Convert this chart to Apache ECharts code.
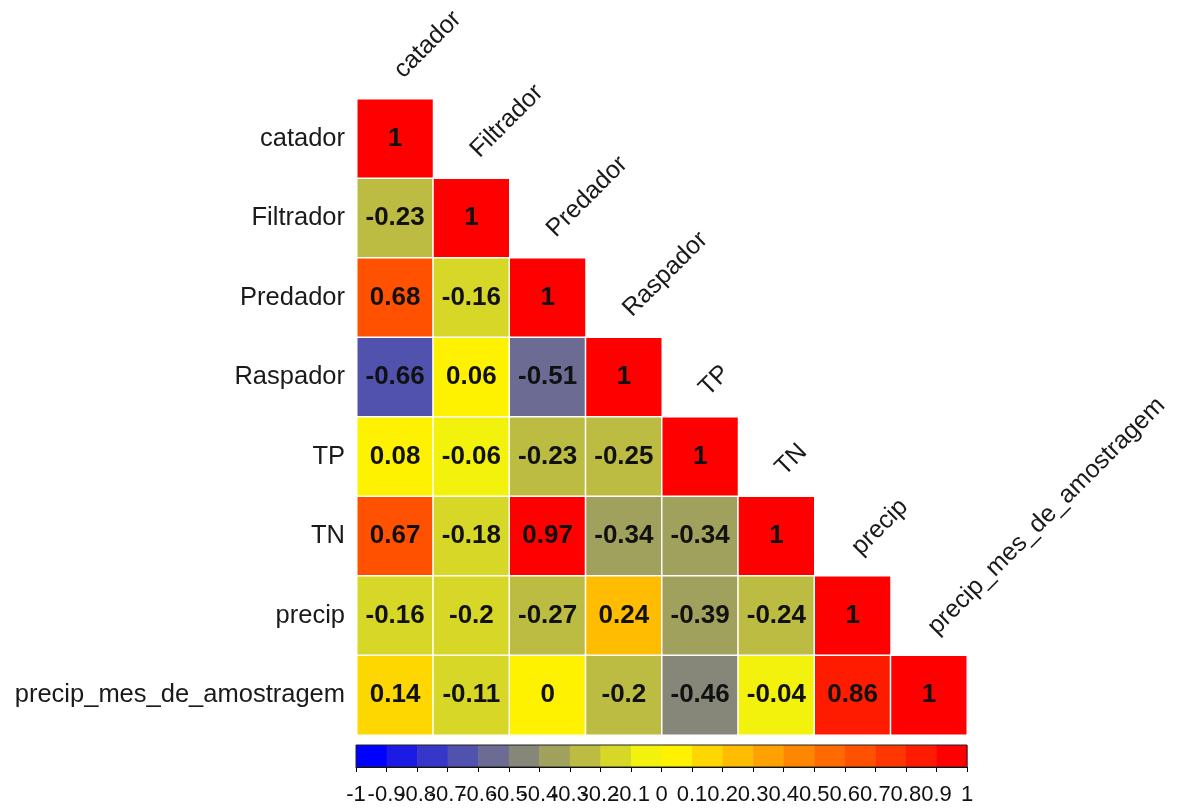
<!DOCTYPE html>
<html>
<head>
<meta charset="utf-8">
<script src="https://cdn.jsdelivr.net/npm/echarts@6/dist/echarts.min.js"></script>
<style>html,body{margin:0;padding:0;background:#fff;}#chart{width:1183px;height:812px;}</style>
</head>
<body>
<div id="chart"></div>
<script>
const variables = ['catador', 'Filtrador', 'Predador', 'Raspador', 'TP', 'TN', 'precip', 'precip_mes_de_amostragem'];
// lower-triangle correlation rows (row variable vs. column variables up to the diagonal)
const rowCatador = [1];
const rowFiltrador = [-0.23, 1];
const rowPredador = [0.68, -0.16, 1];
const rowRaspador = [-0.66, 0.06, -0.51, 1];
const rowTP = [0.08, -0.06, -0.23, -0.25, 1];
const rowTN = [0.67, -0.18, 0.97, -0.34, -0.34, 1];
const rowPrecip = [-0.16, -0.196, -0.27, 0.24, -0.39, -0.24, 1];
const rowPrecipMes = [0.14, -0.11, 0, -0.204, -0.46, -0.04, 0.86, 1];
const correlationRows = [rowCatador, rowFiltrador, rowPredador, rowRaspador, rowTP, rowTN, rowPrecip, rowPrecipMes];
const colorbarBreaks = [-1, -0.9, -0.8, -0.7, -0.6, -0.5, -0.4, -0.3, -0.2, -0.1, 0, 0.1, 0.2, 0.3, 0.4, 0.5, 0.6, 0.7, 0.8, 0.9, 1];

const palette = [
  '#0000ff', '#1b1be4', '#3636c9', '#5151ae', '#6b6b94', '#868679', '#a1a15e', '#bcbc43', '#d7d728', '#f2f20d',
  '#fff200', '#ffd700', '#ffbc00', '#ffa100', '#ff8600', '#ff6b00', '#ff5100', '#ff3600', '#ff1b00', '#ff0000'
];
const FONT = '"Liberation Sans", Arial, sans-serif';

const heatData = [];
correlationRows.forEach((row, r) => {
  row.forEach((v, c) => heatData.push([c, r, v]));
});

const pieces = palette.map((color, k) => {
  const p = { gte: colorbarBreaks[k], color: color };
  if (k === palette.length - 1) p.lte = colorbarBreaks[k + 1]; else p.lt = colorbarBreaks[k + 1];
  return p;
});

const chart = echarts.init(document.getElementById('chart'));
chart.setOption({
  backgroundColor: '#ffffff',
  animation: false,
  grid: [
    { left: 357, top: 99, width: 610, height: 636 },
    { left: 356, top: 745, width: 611, height: 22 }
  ],
  xAxis: [
    { gridIndex: 0, type: 'category', data: variables, axisLine: { show: false }, axisTick: { show: false }, axisLabel: { show: false }, splitLine: { show: false } },
    {
      gridIndex: 1, type: 'value', min: -1, max: 1, interval: 0.1,
      axisLine: { show: true, lineStyle: { color: '#000', width: 1 } },
      axisTick: { show: true, length: 5, lineStyle: { color: '#000' } },
      axisLabel: { show: false },
      splitLine: { show: false }
    }
  ],
  yAxis: [
    {
      gridIndex: 0, type: 'category', data: variables, inverse: true,
      axisLine: { show: false }, axisTick: { show: false }, splitLine: { show: false },
      axisLabel: { fontSize: 25.5, color: '#1a1a1a', fontFamily: FONT, margin: 12 }
    },
    { gridIndex: 1, type: 'value', min: 0, max: 1, show: false }
  ],
  visualMap: {
    show: false, type: 'piecewise', seriesIndex: 0, dimension: 2, pieces: pieces
  },
  series: [
    {
      type: 'heatmap', xAxisIndex: 0, yAxisIndex: 0, data: heatData,
      itemStyle: { borderColor: '#ffffff', borderWidth: 1.5 },
      label: {
        show: true, fontSize: 26, fontWeight: 'bold', color: '#111', fontFamily: FONT,
        formatter: (p) => String(Number(p.value[2].toFixed(2)))
      },
      emphasis: { disabled: true }
    },
    {
      type: 'custom', xAxisIndex: 0, yAxisIndex: 0, silent: true, clip: false,
      data: variables.map((n, i) => [i, i]),
      renderItem: (params, api) => {
        const i = api.value(0);
        const p = api.coord([i, i]);
        const s = api.size([1, 1]);
        return {
          type: 'text', x: p[0] + 12, y: p[1] - s[1] / 2 - 16, rotation: Math.PI / 4,
          style: { text: variables[i], fontSize: 25, fontFamily: FONT, fill: '#1a1a1a', align: 'left', verticalAlign: 'bottom' }
        };
      }
    },
    {
      type: 'custom', xAxisIndex: 1, yAxisIndex: 1, silent: true,
      data: palette.map((c, k) => [colorbarBreaks[k], colorbarBreaks[k + 1], k]),
      renderItem: (params, api) => {
        const p0 = api.coord([api.value(0), 0]);
        const p1 = api.coord([api.value(1), 1]);
        return {
          type: 'rect',
          shape: { x: p0[0], y: p1[1], width: p1[0] - p0[0] + 0.5, height: p0[1] - p1[1] },
          style: { fill: palette[api.value(2)] }
        };
      }
    },
    {
      type: 'custom', xAxisIndex: 1, yAxisIndex: 1, silent: true, z: 5,
      data: [[colorbarBreaks[0], colorbarBreaks[colorbarBreaks.length - 1]]],
      renderItem: (params, api) => {
        const p0 = api.coord([api.value(0), 0]);
        const p1 = api.coord([api.value(1), 1]);
        return {
          type: 'rect',
          shape: { x: p0[0], y: p1[1], width: p1[0] - p0[0], height: p0[1] - p1[1] },
          style: { fill: 'none', stroke: '#222', lineWidth: 1 }
        };
      }
    },
    {
      type: 'custom', xAxisIndex: 1, yAxisIndex: 1, silent: true, clip: false, z: 5,
      data: colorbarBreaks.map((v) => [v, 0]),
      renderItem: (params, api) => {
        const v = api.value(0);
        const p = api.coord([v, 0]);
        return {
          type: 'text', x: p[0], y: p[1] + 17,
          style: { text: String(Number(v.toFixed(1))), fontSize: 22, fontFamily: FONT, fill: '#111', align: 'center', verticalAlign: 'top' }
        };
      }
    }
  ]
});
</script>
</body>
</html>
